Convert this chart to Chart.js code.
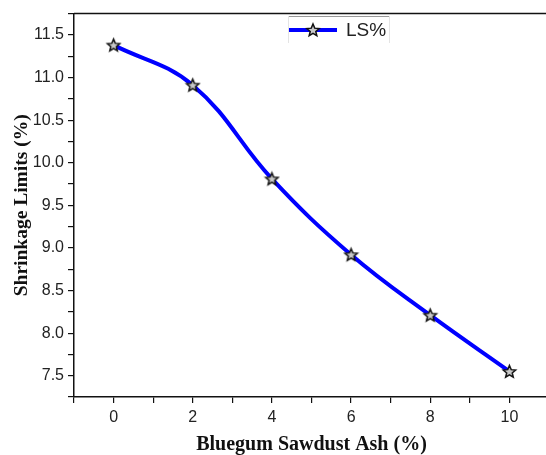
<!DOCTYPE html>
<html>
<head>
<meta charset="utf-8">
<script src="https://cdn.jsdelivr.net/npm/chart.js@4.4.0/dist/chart.umd.min.js"></script>
<style>
  html, body { margin: 0; padding: 0; background: #fff; overflow: hidden; }
  #wrap { width: 546px; height: 455px; overflow: hidden; }
</style>
</head>
<body>
<div id="wrap"><canvas id="lsChart" width="560" height="455"></canvas></div>
<script>
// --- data ---
const ashContent = [0, 2, 4, 6, 8, 10];
const shrinkageLimit = [11.38, 10.91, 9.81, 8.92, 8.21, 7.55];
const seriesLabel = 'LS%';
const xTitle = 'Bluegum Sawdust Ash (%)';
const yTitle = 'Shrinkage Limits (%)';

// five-pointed star marker (Chart's built-in 'star' is an asterisk)
function makeStar(r) {
    const size = Math.ceil(r * 2 + 4);
    const c = document.createElement('canvas');
    c.width = size; c.height = size;
    const g = c.getContext('2d');
    drawStar(g, size / 2, size / 2 + 0.5, r);
    return c;
}

function drawStar(g, cx, cy, r) {
    const inner = r * 0.45;
    g.beginPath();
    for (let i = 0; i < 10; i++) {
        const rad = i % 2 === 0 ? r : inner;
        const a = -Math.PI / 2 + i * Math.PI / 5;
        const px = cx + rad * Math.cos(a), py = cy + rad * Math.sin(a);
        if (i === 0) g.moveTo(px, py); else g.lineTo(px, py);
    }
    g.closePath();
    g.fillStyle = '#c8c8c8';
    g.fill();
    g.lineWidth = 1.5;
    g.strokeStyle = '#111';
    g.stroke();
}

const starImg = makeStar(6.5);

// top frame line + legend inside the plot
const framePlugin = {
    id: 'frame',
    afterDraw(chart) {
        const { ctx, chartArea } = chart;
        ctx.save();
        ctx.strokeStyle = '#111';
        ctx.lineWidth = 1.5;
        ctx.beginPath();
        ctx.moveTo(chartArea.left, chartArea.top);
        ctx.lineTo(chartArea.right, chartArea.top);
        ctx.stroke();

        // legend box (only the top edge is visible in the original)
        ctx.strokeStyle = '#999';
        ctx.lineWidth = 1;
        ctx.beginPath();
        ctx.moveTo(288, 16.5);
        ctx.lineTo(389, 16.5);
        ctx.stroke();
        ctx.strokeStyle = '#e4e4e4';
        ctx.beginPath();
        ctx.moveTo(288.5, 16); ctx.lineTo(288.5, 43);
        ctx.moveTo(389.5, 16); ctx.lineTo(389.5, 43);
        ctx.stroke();

        ctx.strokeStyle = '#0000ff';
        ctx.lineWidth = 4;
        ctx.beginPath();
        ctx.moveTo(289, 30);
        ctx.lineTo(337, 30);
        ctx.stroke();
        drawStar(ctx, 313, 30.5, 6.5);

        ctx.fillStyle = '#222';
        ctx.font = '19px "Liberation Sans", Arial, sans-serif';
        ctx.textBaseline = 'middle';
        ctx.fillText(seriesLabel, 346, 31);
        ctx.restore();
    }
};

const tickFont = { family: '"Liberation Sans", Arial, sans-serif', size: 16 };
const xTitleFont = { family: '"Liberation Serif", "Times New Roman", serif', size: 20, weight: 'bold' };
const yTitleFont = { family: '"Liberation Serif", "Times New Roman", serif', size: 19.5, weight: 'bold' };

new Chart(document.getElementById('lsChart'), {
    type: 'line',
    data: {
        datasets: [{
            label: seriesLabel,
            data: ashContent.map((x, i) => ({ x: x, y: shrinkageLimit[i] })),
            borderColor: '#0000ff',
            borderWidth: 4,
            tension: 0.4,
            pointStyle: starImg,
            pointRadius: 7,
            pointHoverRadius: 7
        }]
    },
    options: {
        responsive: false,
        devicePixelRatio: 1,
        animation: false,
        layout: { padding: { left: 0, top: 12, right: 11, bottom: 0 } },
        plugins: {
            legend: { display: false },
            tooltip: { enabled: false }
        },
        scales: {
            x: {
                type: 'linear',
                min: -1,
                max: 11,
                afterFit: s => { s.height = 58; },
                ticks: {
                    stepSize: 1,
                    font: tickFont,
                    color: '#222',
                    padding: 5,
                    maxRotation: 0,
                    autoSkip: false,
                    callback: v => (v >= 0 && v <= 10 && v % 2 === 0) ? String(v) : ''
                },
                grid: {
                    drawOnChartArea: false,
                    drawTicks: true,
                    tickLength: 6,
                    color: '#111',
                    lineWidth: 1.2
                },
                border: { color: '#111', width: 1.5 },
                title: {
                    display: true,
                    text: xTitle,
                    font: xTitleFont,
                    color: '#111',
                    padding: { top: 0, bottom: -2 }
                }
            },
            y: {
                min: 7.25,
                max: 11.75,
                afterFit: s => { s.width = 74; },
                ticks: {
                    stepSize: 0.25,
                    font: tickFont,
                    color: '#222',
                    padding: 4,
                    autoSkip: false,
                    callback: v => (Math.abs(v * 2 - Math.round(v * 2)) < 1e-6) ? v.toFixed(1) : ''
                },
                grid: {
                    drawOnChartArea: false,
                    drawTicks: true,
                    tickLength: 6,
                    color: '#111',
                    lineWidth: 1.2
                },
                border: { color: '#111', width: 1.5 },
                title: {
                    display: true,
                    text: yTitle,
                    font: yTitleFont,
                    color: '#111',
                    padding: { top: 10, bottom: 0 }
                }
            }
        }
    },
    plugins: [framePlugin]
});
</script>
</body>
</html>
